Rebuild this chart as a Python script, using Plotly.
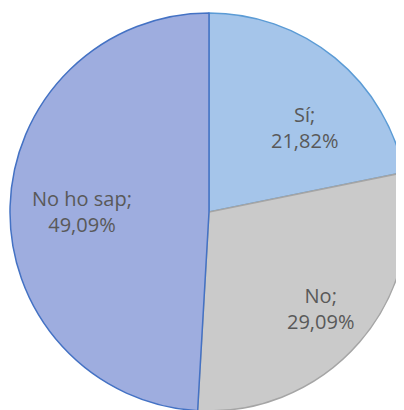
import math
import plotly.graph_objects as go

labels = ["Sí", "No", "No ho sap"]
values = [21.82, 29.09, 49.09]
value_text = ["21,82%", "29,09%", "49,09%"]

fill_colors = ["#a5c5ea", "#cacaca", "#9eaddf"]
edge_colors = ["#5b9bd5", "#a5a5a5", "#4472c4"]

# label placement (style): radial fraction and angle nudge in degrees
label_r = [0.64, 0.74, 0.64]
label_nudge = [9, 0, -1.5]

fig = go.Figure()
fig.add_trace(
    go.Pie(
        labels=labels,
        values=values,
        textinfo="none",
        sort=False,
        direction="clockwise",
        rotation=0,
        marker=dict(colors=fill_colors, line=dict(color=edge_colors, width=1.5)),
        hoverinfo="none",
        showlegend=False,
        domain=dict(x=[0, 1], y=[0, 1]),
    )
)

total = sum(values)
cum = 0
for lab, v, vt, f, nd in zip(labels, values, value_text, label_r, label_nudge):
    mid = (cum + v / 2) / total * 360 + nd
    cum += v
    a = math.radians(mid)
    fig.add_annotation(
        x=0.5 + 0.5 * f * math.sin(a),
        y=0.5 + 0.5 * f * math.cos(a),
        xref="paper", yref="paper",
        xanchor="center", yanchor="middle",
        text=f"{lab};<br>{vt}",
        showarrow=False,
        align="center",
        font=dict(family="Open Sans", size=20, color="#595959"),
    )

fig.update_layout(
    width=400,
    height=403,
    margin=dict(l=2, r=0, t=5, b=0),
    paper_bgcolor="white",
    plot_bgcolor="white",
)

fig.write_html("out.html")
